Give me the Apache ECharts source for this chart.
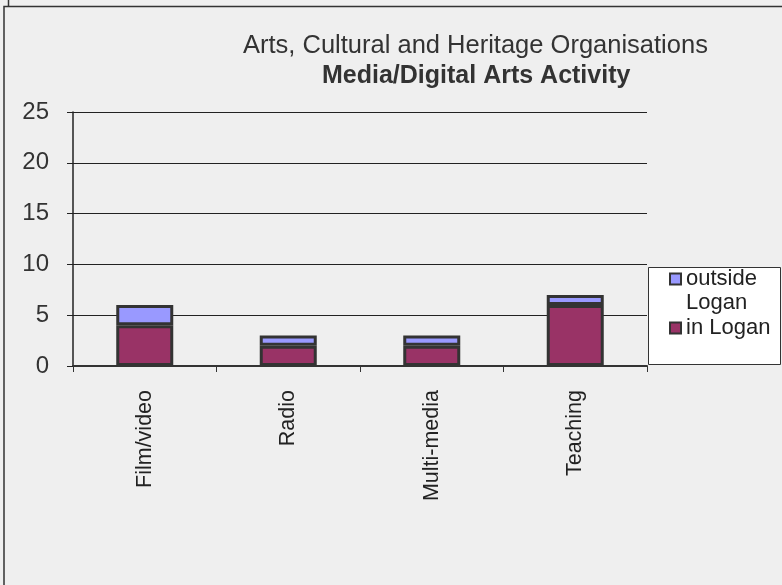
<!DOCTYPE html>
<html>
<head>
<meta charset="utf-8">
<script src="https://cdn.jsdelivr.net/npm/echarts@6/dist/echarts.min.js"></script>
<style>
html, body { margin: 0; padding: 0; background: #efefef; }
#chart { width: 782px; height: 585px; }
</style>
</head>
<body>
<div id="chart"></div>
<script>
// data
var categories = ['Film/video', 'Radio', 'Multi-media', 'Teaching'];
var inLogan = [4, 2, 2, 6];
var outsideLogan = [2, 1, 1, 1];
var yTicks = [0, 5, 10, 15, 20, 25];

var mychart = echarts.init(document.getElementById('chart'));
var option = {
    backgroundColor: '#efefef',
    animation: false,
    title: [{
        text: 'Arts, Cultural and Heritage Organisations',
        left: 238,
        top: 28,
        textStyle: {
            fontFamily: 'Liberation Sans',
            fontSize: 25.5,
            fontWeight: 'normal',
            color: '#333'
        }
    }, {
        text: 'Media/Digital Arts Activity',
        left: 317,
        top: 59,
        textStyle: {
            fontFamily: 'Liberation Sans',
            fontSize: 25,
            fontWeight: 'bold',
            color: '#333'
        }
    }],
    legend: {
        orient: 'vertical',
        left: 648,
        top: 243,
        z: 5,
        data: ['outside Logan', 'in Logan'],
        // empty first line so the marker sits next to "outside"
        formatter: function (name) {
            return name == 'outside Logan' ? ' \noutside\nLogan' : name;
        },
        icon: 'rect',
        itemWidth: 11,
        itemHeight: 11,
        itemGap: 1,
        padding: [0, 12, 0, 21],
        itemStyle: { borderColor: '#333', borderWidth: 2 },
        textStyle: {
            fontFamily: 'Liberation Sans',
            fontSize: 22,
            lineHeight: 24,
            color: '#222'
        }
    },
    grid: {
        left: 73,
        right: 135,
        top: 112,
        bottom: 219
    },
    xAxis: {
        type: 'category',
        data: categories,
        boundaryGap: true,
        axisLine: { lineStyle: { color: '#333', width: 2 } },
        axisTick: { show: true, length: 6, inside: false, lineStyle: { color: '#333' } },
        axisLabel: {
            rotate: 90,
            margin: 24,
            fontFamily: 'Liberation Sans',
            fontSize: 21.5,
            color: '#222'
        }
    },
    yAxis: {
        type: 'value',
        min: yTicks[0],
        max: yTicks[yTicks.length - 1],
        interval: 5,
        axisLine: { show: true, lineStyle: { color: '#222', width: 1.5 } },
        axisTick: { show: true, length: 6, lineStyle: { color: '#222' } },
        splitLine: { show: true, lineStyle: { color: '#222', width: 1.2 } },
        axisLabel: {
            margin: 24,
            fontFamily: 'Liberation Sans',
            fontSize: 24,
            color: '#333'
        }
    },
    series: [{
        name: 'in Logan',
        type: 'bar',
        stack: 'total',
        barWidth: 57,
        data: inLogan,
        itemStyle: { color: '#993366', borderColor: '#333', borderWidth: 3 }
    }, {
        name: 'outside Logan',
        type: 'bar',
        stack: 'total',
        barWidth: 57,
        data: outsideLogan,
        itemStyle: { color: '#9999ff', borderColor: '#333', borderWidth: 3 }
    }],
    graphic: [{
        type: 'rect',
        z: 1,
        shape: { x: 4, y: 6.5, width: 800, height: 600 },
        style: { fill: null, stroke: '#333', lineWidth: 1.5 }
    }, {
        type: 'line',
        z: 1,
        shape: { x1: 8.5, y1: 0, x2: 8.5, y2: 6 },
        style: { stroke: '#333', lineWidth: 1.5 }
    }, {
        // legend frame
        type: 'rect',
        z: 1,
        shape: { x: 648.5, y: 267.5, width: 132, height: 97 },
        style: { fill: '#fff', stroke: '#333', lineWidth: 1 }
    }]
};
mychart.setOption(option);
</script>
</body>
</html>
